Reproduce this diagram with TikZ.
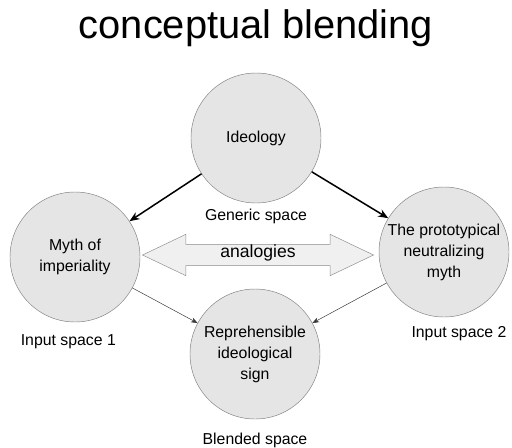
\documentclass[tikz,border=0pt]{standalone}
\usepackage{fontspec}
\setmainfont{Liberation Sans}
\usepackage{tikz}
\usetikzlibrary{shapes.arrows,arrows.meta,positioning}

\begin{document}
\begin{tikzpicture}[
  x=0.03cm, y=-0.03cm,
  space/.style={
    draw=black!50, circle, fill=black!10,
    minimum size=3.9cm, inner sep=0pt,
    font=\fontsize{13.5}{18}\selectfont, align=center
  },
  lbl/.style={font=\fontsize{13.5}{16}\selectfont, inner sep=0pt},
  thickarr/.style={-{Stealth[length=3mm,width=2.4mm]},line width=1.3pt},
  thinarr/.style={-{Stealth[length=2mm,width=1.5mm]},thin,black!80},
]
\useasboundingbox (0,0) rectangle (512,447);

\node[font=\fontsize{34}{40}\selectfont] (title) at (256,28) {conceptual blending};

\node[space] (ideo)  at (256,138) {Ideology};
\node[space] (myth)  at (75,257)  {Myth of\\imperiality};
\node[space] (proto) at (444,252) {The prototypical\\neutralizing\\myth};
\node[space] (blend) at (255,354) {Reprehensible\\ideological\\sign};

\node[lbl,below=0.18cm of ideo]  (gen) {Generic space};
\node[lbl,below=0.36cm of myth,xshift=-0.2cm]  (in1) {Input space 1};
\node[lbl,below=0.27cm of proto,xshift=0.45cm] (in2) {Input space 2};
\node[lbl,below=0.42cm of blend] (bl)  {Blended space};

% analogy between the two inputs
\node[double arrow, draw=black!45, fill=black!6,
  minimum height=6.93cm, double arrow head extend=0.3cm,
  double arrow tip angle=51, text height=0.72em, text depth=0.21em,
  inner ysep=0.15cm, font=\fontsize{15}{18}\selectfont]
  (ana) at (258,255) {analogies};

\draw[thickarr] (ideo) -- (myth);
\draw[thickarr] (ideo) -- (proto);
\draw[thinarr] (myth)  -- (blend);
\draw[thinarr] (proto) -- (blend);
\end{tikzpicture}
\end{document}
